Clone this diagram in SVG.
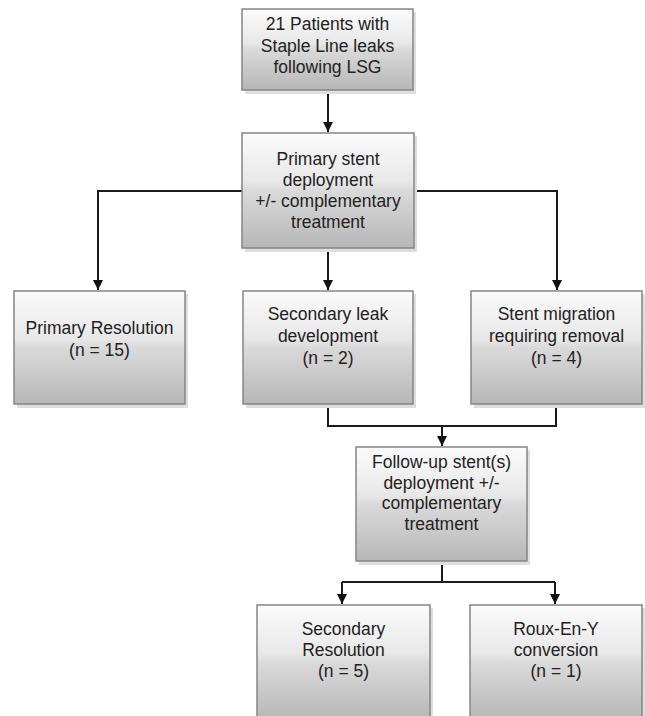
<svg xmlns="http://www.w3.org/2000/svg" width="645" height="716" viewBox="0 0 645 716">
<defs>
<linearGradient id="g" x1="0" y1="0" x2="0" y2="1">
<stop offset="0" stop-color="#fbfbfb"/>
<stop offset="0.42" stop-color="#e8e8e8"/>
<stop offset="0.5" stop-color="#dadada"/>
<stop offset="1" stop-color="#b7b7b7"/>
</linearGradient>
<marker id="ah" viewBox="0 0 10 10" refX="10" refY="5" markerWidth="10" markerHeight="10" markerUnits="userSpaceOnUse" orient="auto">
<path d="M0,0 L10,5 L0,10 z" fill="#111"/>
</marker>
</defs>
<style>
.box{fill:url(#g);stroke:#858585;stroke-width:1.5}
.sh{fill:#dedede}
text{font-family:"Liberation Sans",Arial,sans-serif;font-size:17.5px;fill:#222;text-anchor:middle}
.c{fill:none;stroke:#1a1a1a;stroke-width:2}
</style>
<rect width="645" height="716" fill="#fff"/>
<g id="connectors">
<path class="c" d="M328,90 V132" marker-end="url(#ah)"/>
<path class="c" d="M242,191 H98 V290" marker-end="url(#ah)"/>
<path class="c" d="M328,248 V290" marker-end="url(#ah)"/>
<path class="c" d="M413,191 H557 V290" marker-end="url(#ah)"/>
<path class="c" d="M328,404 V426 H556 V404"/>
<path class="c" d="M442,426 V446" marker-end="url(#ah)"/>
<path class="c" d="M442,561 V582"/>
<path class="c" d="M342,582 H555"/>
<path class="c" d="M342,582 V604" marker-end="url(#ah)"/>
<path class="c" d="M555,582 V604" marker-end="url(#ah)"/>
</g>
<g id="n1">
<rect class="sh" x="245" y="12" width="171" height="82"/>
<rect class="box" x="242" y="9" width="171" height="81"/>
<text x="327.5" y="30">21 Patients with</text>
<text x="327.5" y="52">Staple Line leaks</text>
<text x="327.5" y="73">following LSG</text>
</g>
<g id="n2">
<rect class="sh" x="245" y="136" width="172" height="116"/>
<rect class="box" x="242" y="133" width="172" height="115"/>
<text x="328" y="165">Primary stent</text>
<text x="328" y="186">deployment</text>
<text x="328" y="207">+/- complementary</text>
<text x="328" y="228">treatment</text>
</g>
<g id="n3">
<rect class="sh" x="17" y="294" width="171" height="114"/>
<rect class="box" x="14" y="291" width="171" height="113"/>
<text x="99.5" y="334">Primary Resolution</text>
<text x="99.5" y="356">(n = 15)</text>
</g>
<g id="n4">
<rect class="sh" x="246" y="294" width="170" height="114"/>
<rect class="box" x="243" y="291" width="170" height="113"/>
<text x="328" y="320">Secondary leak</text>
<text x="328" y="342">development</text>
<text x="328" y="364">(n = 2)</text>
</g>
<g id="n5">
<rect class="sh" x="474" y="294" width="171" height="114"/>
<rect class="box" x="471" y="291" width="171" height="113"/>
<text x="556.5" y="320">Stent migration</text>
<text x="556.5" y="342">requiring removal</text>
<text x="556.5" y="364">(n = 4)</text>
</g>
<g id="n6">
<rect class="sh" x="359" y="450" width="171" height="115"/>
<rect class="box" x="356" y="447" width="171" height="114"/>
<text x="441.5" y="468">Follow-up stent(s)</text>
<text x="441.5" y="489">deployment +/-</text>
<text x="441.5" y="509">complementary</text>
<text x="441.5" y="530">treatment</text>
</g>
<g id="n7">
<rect class="sh" x="260" y="608" width="173" height="115"/>
<rect class="box" x="257" y="605" width="173" height="115"/>
<text x="343.5" y="635">Secondary</text>
<text x="343.5" y="656">Resolution</text>
<text x="343.5" y="677">(n = 5)</text>
</g>
<g id="n8">
<rect class="sh" x="473" y="608" width="172" height="115"/>
<rect class="box" x="470" y="605" width="172" height="115"/>
<text x="556" y="635">Roux-En-Y</text>
<text x="556" y="656">conversion</text>
<text x="556" y="677">(n = 1)</text>
</g>
</svg>
